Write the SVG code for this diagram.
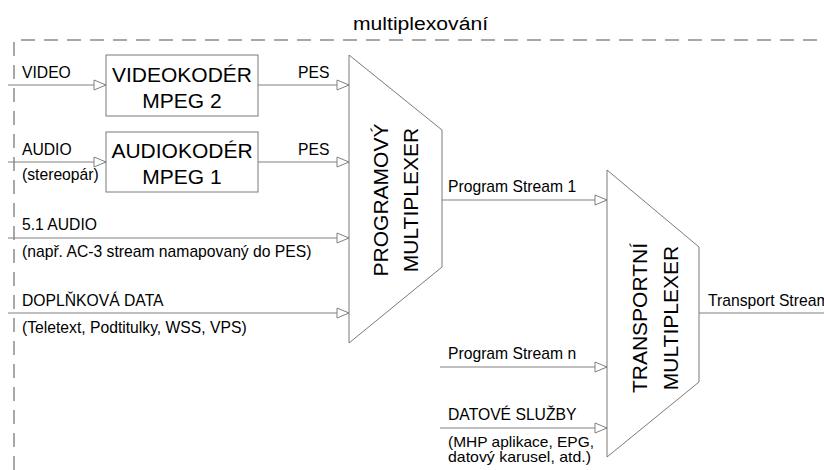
<svg xmlns="http://www.w3.org/2000/svg" width="824" height="470" viewBox="0 0 824 470">
  <defs>
    <marker id="arr" markerUnits="userSpaceOnUse" markerWidth="14" markerHeight="12" refX="12" refY="5" orient="auto" overflow="visible">
      <path d="M0,0 L12,5 L0,10 Z" fill="#fff" stroke="#808080" stroke-width="1"/>
    </marker>
    <style>
      .frame { fill: none; stroke: #8c8c8c; stroke-width: 1.5; stroke-dasharray: 14 9; }
      .box { fill: #fff; stroke: #7a7a7a; stroke-width: 1; }
      .mux { fill: #fff; stroke: #7a7a7a; stroke-width: 1; }
      .line { fill: none; stroke: #808080; stroke-width: 1; }
      .arrow { marker-end: url(#arr); }
      text { font-family: "Liberation Sans", Arial, sans-serif; fill: #000; }
      .lbl { font-size: 15.7px; }
      .small { font-size: 15px; }
      .big { font-size: 21px; text-anchor: middle; }
      .title { font-size: 18px; }
    </style>
  </defs>

  <rect width="824" height="470" fill="#fff"/>

  <!-- multiplexing boundary -->
  <g id="boundary">
    <path class="frame" d="M14,470 L14,40 L824,40"/>
    <text class="title" x="353" y="30" textLength="135" lengthAdjust="spacingAndGlyphs">multiplexování</text>
  </g>

  <!-- connectors -->
  <g id="connectors">
    <line class="line arrow" x1="8" y1="85" x2="106" y2="85"/>
    <line class="line arrow" x1="8" y1="162" x2="106" y2="162"/>
    <line class="line arrow" x1="258" y1="85" x2="349" y2="85"/>
    <line class="line arrow" x1="258" y1="162" x2="349" y2="162"/>
    <line class="line arrow" x1="8" y1="238" x2="349" y2="238"/>
    <line class="line arrow" x1="8" y1="313" x2="349" y2="313"/>
    <line class="line arrow" x1="442" y1="200" x2="607" y2="200"/>
    <line class="line arrow" x1="440" y1="367" x2="607" y2="367"/>
    <line class="line arrow" x1="440" y1="428" x2="607" y2="428"/>
    <line class="line" x1="699" y1="313" x2="824" y2="313"/>

    <text class="lbl" x="22" y="78">VIDEO</text>
    <text class="lbl" x="22" y="155">AUDIO</text>
    <text class="lbl" x="22" y="180">(stereopár)</text>
    <text class="lbl" x="298" y="78">PES</text>
    <text class="lbl" x="298" y="155">PES</text>
    <text class="lbl" x="22" y="230">5.1 AUDIO</text>
    <text class="lbl" x="22" y="257">(např. AC-3 stream namapovaný do PES)</text>
    <text class="lbl" x="22" y="306">DOPLŇKOVÁ DATA</text>
    <text class="lbl" x="22" y="333">(Teletext, Podtitulky, WSS, VPS)</text>
    <text class="lbl" x="448" y="192">Program Stream 1</text>
    <text class="lbl" x="448" y="359">Program Stream n</text>
    <text class="lbl" x="448" y="420">DATOVÉ SLUŽBY</text>
    <text class="small" x="448" y="447" textLength="146" lengthAdjust="spacingAndGlyphs">(MHP aplikace, EPG,</text>
    <text class="small" x="448" y="462" textLength="143" lengthAdjust="spacingAndGlyphs">datový karusel, atd.)</text>
    <text class="lbl" x="708" y="306">Transport Stream</text>
  </g>

  <!-- video encoder -->
  <g id="videokoder">
    <rect class="box" x="106" y="55" width="152" height="61"/>
    <text class="big" x="182" y="82">VIDEOKODÉR</text>
    <text class="big" x="182" y="108">MPEG 2</text>
  </g>

  <!-- audio encoder -->
  <g id="audiokoder">
    <rect class="box" x="106" y="132" width="152" height="60"/>
    <text class="big" x="182" y="158">AUDIOKODÉR</text>
    <text class="big" x="182" y="184">MPEG 1</text>
  </g>

  <!-- program multiplexer -->
  <g id="programovy-multiplexer">
    <polygon class="mux" points="349,55 442,130 442,267 349,343"/>
    <text class="big" transform="translate(388,200) rotate(-90)">PROGRAMOVÝ</text>
    <text class="big" transform="translate(418,200) rotate(-90)">MULTIPLEXER</text>
  </g>

  <!-- transport multiplexer -->
  <g id="transportni-multiplexer">
    <polygon class="mux" points="607,170 699,247 699,382 607,457"/>
    <text class="big" transform="translate(647,318) rotate(-90)">TRANSPORTNÍ</text>
    <text class="big" transform="translate(678,318) rotate(-90)">MULTIPLEXER</text>
  </g>
</svg>
